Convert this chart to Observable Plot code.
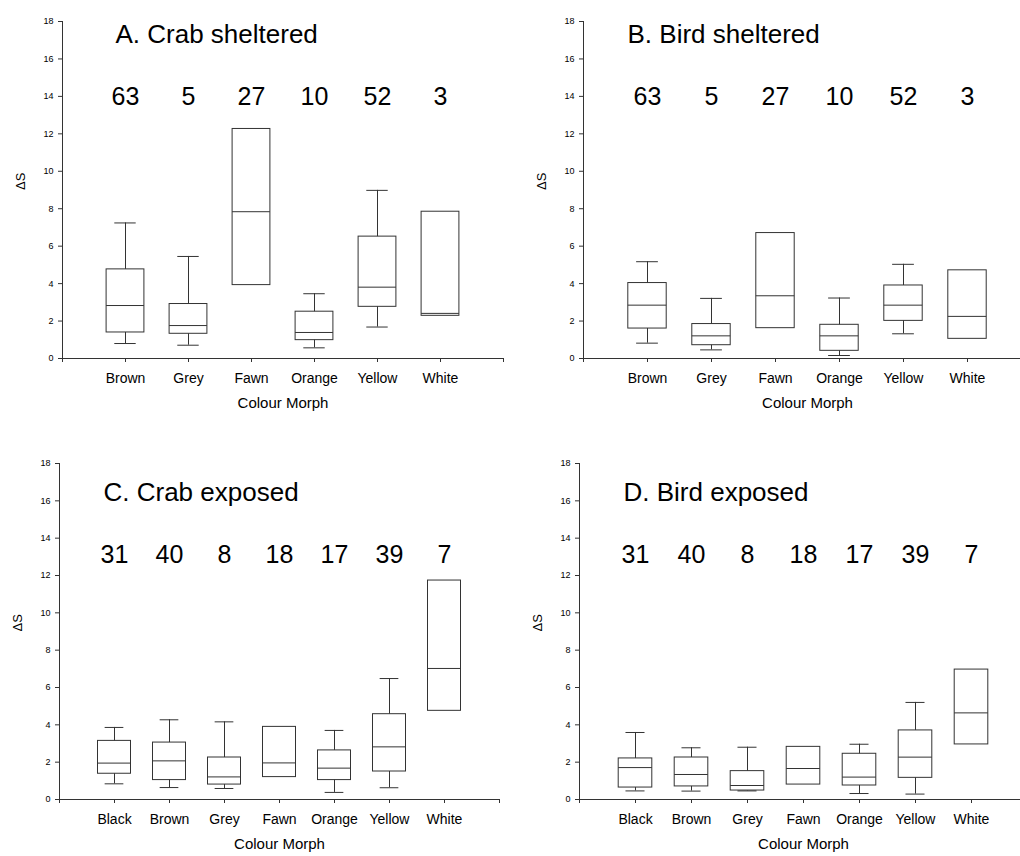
<!DOCTYPE html>
<html>
<head>
<meta charset="utf-8">
<script src="https://cdn.jsdelivr.net/npm/d3@7"></script>
<script src="https://cdn.jsdelivr.net/npm/@observablehq/plot@0.6"></script>
<style>
  html, body { margin: 0; padding: 0; background: #fff; overflow: hidden; }
  #wrap { position: relative; width: 1020px; height: 856px; overflow: hidden; }
  .panel { position: absolute; }
  .panel svg { max-width: none !important; }
</style>
</head>
<body>
<div id="wrap"></div>
<script>
// ---- data ----
const catsSheltered = ["Brown", "Grey", "Fawn", "Orange", "Yellow", "White"];
const catsExposed = ["Black", "Brown", "Grey", "Fawn", "Orange", "Yellow", "White"];
const nSheltered = [63, 5, 27, 10, 52, 3];
const nExposed = [31, 40, 8, 18, 17, 39, 7];
const yTicks = [0, 2, 4, 6, 8, 10, 12, 14, 16, 18];

// A. Crab sheltered
const crabShelteredLow  = [0.80, 0.71, null, 0.57, 1.68, null];
const crabShelteredQ1   = [1.39, 1.32, 3.92, 0.98, 2.76, 2.28];
const crabShelteredMed  = [2.83, 1.76, 7.84, 1.39, 3.81, 2.41];
const crabShelteredQ3   = [4.76, 2.91, 12.26, 2.50, 6.51, 7.84];
const crabShelteredHigh = [7.24, 5.45, null, 3.46, 8.98, null];

// B. Bird sheltered
const birdShelteredLow  = [0.82, 0.46, null, 0.16, 1.32, null];
const birdShelteredQ1   = [1.60, 0.71, 1.62, 0.41, 2.01, 1.05];
const birdShelteredMed  = [2.85, 1.21, 3.35, 1.21, 2.85, 2.25];
const birdShelteredQ3   = [4.03, 1.84, 6.70, 1.80, 3.90, 4.71];
const birdShelteredHigh = [5.17, 3.21, null, 3.23, 5.03, null];

// C. Crab exposed
const crabExposedLow  = [0.84, 0.64, 0.59, null, 0.38, 0.63, null];
const crabExposedQ1   = [1.38, 1.04, 0.80, 1.20, 1.04, 1.50, 4.75];
const crabExposedMed  = [1.95, 2.07, 1.21, 1.96, 1.68, 2.82, 7.02];
const crabExposedQ3   = [3.14, 3.05, 2.25, 3.89, 2.63, 4.57, 11.73];
const crabExposedHigh = [3.86, 4.27, 4.16, null, 3.70, 6.48, null];

// D. Bird exposed
const birdExposedLow  = [0.46, 0.45, 0.46, null, 0.32, 0.29, null];
const birdExposedQ1   = [0.64, 0.70, 0.48, 0.80, 0.75, 1.16, 2.95];
const birdExposedMed  = [1.71, 1.34, 0.75, 1.66, 1.20, 2.27, 4.64];
const birdExposedQ3   = [2.20, 2.25, 1.52, 2.82, 2.45, 3.70, 6.96];
const birdExposedHigh = [3.59, 2.77, 2.80, null, 2.96, 5.20, null];

const FONT = "'Liberation Sans', Arial, Helvetica, sans-serif";
const LINE = "#333";

function rowsOf(cats, ns, low, q1, med, q3, high) {
  return cats.map((c, k) => ({ i: k + 1, cat: c, n: ns[k], low: low[k], q1: q1[k], med: med[k], q3: q3[k], high: high[k] }));
}

function panel(opt) {
  const { cats, rows, title, left, top, width, height, mL, mR, mT, mB, titleDx, titleDy, nY } = opt;
  const n = cats.length;
  const whisk = rows.filter(d => d.high != null);
  const chart = Plot.plot({
    width, height,
    marginLeft: mL, marginRight: mR, marginTop: mT, marginBottom: mB,
    style: { fontFamily: FONT, color: "#000", background: "transparent", overflow: "visible", maxWidth: "none" },
    x: { domain: [0, n + 1], axis: null },
    y: { domain: [0, 18], axis: null },
    marks: [
      Plot.axisY({ ticks: yTicks, tickSize: 4, tickPadding: 5, fontSize: 9, label: null, stroke: LINE }),
      Plot.axisX({ ticks: d3.range(0, n + 2), tickFormat: t => (t >= 1 && t <= n ? cats[t - 1] : ""),
                   tickSize: 4, tickPadding: 11, fontSize: 14, label: null, stroke: LINE }),
      Plot.ruleY([0], { stroke: LINE }),
      Plot.ruleX([0], { y1: 0, y2: 18, stroke: LINE }),
      // whiskers
      Plot.ruleX(whisk, { x: "i", y1: "q3", y2: "high", stroke: LINE }),
      Plot.ruleX(whisk, { x: "i", y1: "low", y2: "q1", stroke: LINE }),
      Plot.ruleY(whisk, { y: "high", x1: d => d.i - 0.17, x2: d => d.i + 0.17, stroke: LINE }),
      Plot.ruleY(whisk, { y: "low", x1: d => d.i - 0.17, x2: d => d.i + 0.17, stroke: LINE }),
      // boxes
      Plot.rect(rows, { x1: d => d.i - 0.3, x2: d => d.i + 0.3, y1: "q1", y2: "q3", fill: "none", stroke: LINE }),
      Plot.ruleY(rows, { y: "med", x1: d => d.i - 0.3, x2: d => d.i + 0.3, stroke: LINE }),
      // sample sizes
      Plot.text(rows, { x: "i", y: () => nY, text: d => String(d.n), fontSize: 25, fill: "#000" }),
      // title
      Plot.text([title], { frameAnchor: "top-left", dx: titleDx, dy: titleDy, textAnchor: "start", fontSize: 26, fill: "#000" }),
      // y label
      Plot.text(["\u0394S"], { frameAnchor: "left", dx: -42, rotate: -90, fontSize: 13, fill: "#000" }),
      // x label
      Plot.text(["Colour Morph"], { frameAnchor: "bottom", dy: 49, fontSize: 15, fill: "#000" })
    ]
  });
  const div = document.createElement("div");
  div.className = "panel";
  div.style.left = left + "px";
  div.style.top = top + "px";
  div.style.width = width + "px";
  div.style.height = height + "px";
  div.appendChild(chart);
  document.getElementById("wrap").appendChild(div);
}

panel({
  cats: catsSheltered, title: "A. Crab sheltered",
  rows: rowsOf(catsSheltered, nSheltered, crabShelteredLow, crabShelteredQ1, crabShelteredMed, crabShelteredQ3, crabShelteredHigh),
  left: 0, top: 0, width: 510, height: 420, mL: 62, mR: 7, mT: 21, mB: 62,
  titleDx: 53, titleDy: 3, nY: 13.96
});
panel({
  cats: catsSheltered, title: "B. Bird sheltered",
  rows: rowsOf(catsSheltered, nSheltered, birdShelteredLow, birdShelteredQ1, birdShelteredMed, birdShelteredQ3, birdShelteredHigh),
  left: 510, top: 0, width: 530, height: 420, mL: 73, mR: 9, mT: 21, mB: 62,
  titleDx: 44, titleDy: 3, nY: 13.96
});
panel({
  cats: catsExposed, title: "C. Crab exposed",
  rows: rowsOf(catsExposed, nExposed, crabExposedLow, crabExposedQ1, crabExposedMed, crabExposedQ3, crabExposedHigh),
  left: 0, top: 430, width: 510, height: 426, mL: 59, mR: 11, mT: 33, mB: 57,
  titleDx: 44, titleDy: 19, nY: 13.1
});
panel({
  cats: catsExposed, title: "D. Bird exposed",
  rows: rowsOf(catsExposed, nExposed, birdExposedLow, birdExposedQ1, birdExposedMed, birdExposedQ3, birdExposedHigh),
  left: 510, top: 430, width: 530, height: 426, mL: 69, mR: 13, mT: 33, mB: 57,
  titleDx: 44, titleDy: 19, nY: 13.1
});
</script>
</body>
</html>
